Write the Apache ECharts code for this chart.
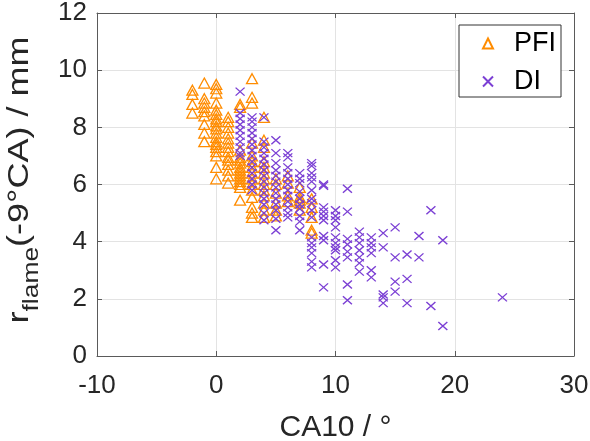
<!DOCTYPE html>
<html><head><meta charset="utf-8">
<script src="https://cdn.jsdelivr.net/npm/echarts@6/dist/echarts.min.js"></script>
<style>html,body{margin:0;padding:0;background:#fff}#c{width:590px;height:441px}</style>
</head><body><div id="c"></div>
<script>
const seriesNames = ['PFI', 'DI'];
const xTickLabels = ['-10', '0', '10', '20', '30'];
const yTickLabels = ['0', '2', '4', '6', '8', '10', '12'];
const xTitle = 'CA10 / °';

// PFI: [CA10, r_flame]
const pfiPoints = [
  [-2,9.3],[-2,9.15],[-2,8.8],[-2,8.5],
  [-1,9.55],[-1,9.0],[-1,8.85],[-1,8.7],[-1,8.55],[-1,8.4],[-1,8.1],[-1,7.8],[-1,7.5],
  [0,9.5],[0,9.35],[0,9.2],[0,8.85],[0,8.6],[0,8.45],[0,8.3],[0,8.2],[0,8.05],[0,7.95],[0,7.8],[0,7.65],[0,7.5],[0,7.4],[0,7.3],[0,7.15],[0,7.0],[0,6.6],[0,6.2],
  [1,8.35],[1,8.2],[1,8.0],[1,7.8],[1,7.6],[1,7.45],[1,7.3],[1,7.15],[1,6.95],[1,6.85],[1,6.7],[1,6.5],[1,6.3],[1,6.05],
  [2,8.8],[2,8.7],[2,7.2],[2,6.95],[2,6.85],[2,6.75],[2,6.6],[2,6.5],[2,6.4],[2,6.3],[2,6.2],[2,6.1],[2,6.0],[2,5.9],[2,5.45],
  [3,9.7],[3,9.05],[3,8.85],[3,7.45],[3,7.0],[3,6.8],[3,6.6],[3,6.4],[3,6.2],[3,6.0],[3,5.8],[3,5.55],[3,5.2],[3,5.0],[3,4.85],
  [4,8.35],[4,7.55],[4,7.3],[4,6.8],[4,6.6],[4,6.4],[4,6.2],[4,6.0],[4,5.8],[4,5.6],[4,5.35],[4,5.1],[4,4.85],
  [5,6.2],[5,6.0],[5,5.7],[5,5.35],[5,5.1],[5,4.9],
  [6,6.3],[6,6.05],[6,5.6],[6,5.4],
  [7,5.9],[7,5.55],[7,5.45],[7,5.35],[7,5.1],
  [8,5.5],[8,5.2],[8,4.85],[8,4.4],[8,4.3]
];

// DI: [CA10, r_flame]
const diPoints = [
  [2,9.25],[2,8.5],[2,8.3],[2,8.1],[2,7.9],[2,7.7],[2,7.5],[2,7.3],[2,7.1],[2,7.0],
  [3,8.35],[3,8.2],[3,8.0],[3,7.8],[3,7.6],[3,7.4],[3,7.2],[3,7.0],[3,6.8],[3,6.6],[3,6.4],[3,6.2],[3,6.0],[3,5.8],
  [4,8.35],[4,7.5],[4,7.3],[4,7.1],[4,6.9],[4,6.7],[4,6.5],[4,6.3],[4,6.1],[4,5.9],[4,5.7],[4,5.5],[4,5.3],[4,5.0],[4,4.75],
  [5,7.55],[5,7.1],[5,6.75],[5,6.5],[5,6.3],[5,6.1],[5,5.9],[5,5.7],[5,5.5],[5,5.3],[5,5.1],[5,4.8],[5,4.4],
  [6,7.1],[6,6.95],[6,6.6],[6,6.4],[6,6.2],[6,6.0],[6,5.8],[6,5.6],[6,5.4],[6,5.2],[6,5.0],[6,4.85],
  [7,6.4],[7,6.2],[7,6.05],[7,5.75],[7,5.5],[7,5.3],[7,5.15],[7,4.9],[7,4.7],[7,4.4],
  [8,6.75],[8,6.65],[8,6.4],[8,6.25],[8,6.1],[8,5.8],[8,5.5],[8,5.35],[8,5.1],[8,4.85],[8,4.15],[8,3.95],[8,3.8],[8,3.6],[8,3.3],[8,3.1],
  [9,6.0],[9,5.95],[9,5.2],[9,5.05],[9,4.9],[9,4.75],[9,4.2],[9,4.05],[9,3.2],[9,2.4],
  [10,5.1],[10,4.9],[10,4.75],[10,4.5],[10,4.15],[10,3.95],[10,3.8],[10,3.7],[10,3.35],[10,3.1],
  [11,5.85],[11,5.05],[11,4.1],[11,3.9],[11,3.65],[11,3.45],[11,2.5],[11,1.95],
  [12,4.35],[12,4.15],[12,3.95],[12,3.7],[12,3.45],[12,3.25],[12,2.95],
  [13,4.15],[13,3.95],[13,3.8],[13,3.6],[13,3.0],[13,2.75],
  [14,4.3],[14,3.8],[14,2.15],[14,2.05],[14,1.85],
  [15,4.5],[15,3.45],[15,2.6],[15,2.25],
  [16,3.55],[16,2.7],[16,1.85],
  [17,4.2],[17,3.45],
  [18,5.1],[18,1.75],
  [19,4.05],[19,1.05],
  [24,2.05]
];

const FONT = 'Liberation Sans, Arial, Helvetica, sans-serif';
const ORANGE = '#ff8c00';
const PURPLE = '#7b3fd4';
const AX = '#5a5a5a';

const chart = echarts.init(document.getElementById('c'), null, {renderer: 'canvas'});
const xMin = Number(xTickLabels[0]), xMax = Number(xTickLabels[xTickLabels.length - 1]);
const yMin = Number(yTickLabels[0]), yMax = Number(yTickLabels[yTickLabels.length - 1]);
const xInt = Number(xTickLabels[1]) - xMin, yInt = Number(yTickLabels[1]) - yMin;

const baseAxis = {
  type: 'value',
  axisLine: {show: true, onZero: false, lineStyle: {color: AX, width: 1}},
  axisTick: {show: true, inside: true, length: 5, lineStyle: {color: AX}},
};

chart.setOption({
  animation: false,
  backgroundColor: '#fff',
  grid: {left: 97, right: 16, top: 13, bottom: 85, containLabel: false, outerBoundsMode: 'none'},
  xAxis: [
    Object.assign({}, baseAxis, {
      min: xMin, max: xMax, interval: xInt, position: 'bottom',
      axisLabel: {fontSize: 26, color: '#262626', fontFamily: FONT, margin: 17},
      splitLine: {show: true, lineStyle: {color: '#e3e3e3', width: 1}},
      name: xTitle, nameLocation: 'middle', nameGap: 57,
      nameTextStyle: {fontSize: 30, color: '#262626', fontFamily: FONT}
    }),
    Object.assign({}, baseAxis, {
      min: xMin, max: xMax, interval: xInt, position: 'top',
      axisLabel: {show: false}, splitLine: {show: false}
    })
  ],
  yAxis: [
    Object.assign({}, baseAxis, {
      min: yMin, max: yMax, interval: yInt, position: 'left',
      axisLabel: {fontSize: 26, color: '#262626', fontFamily: FONT, margin: 10},
      splitLine: {show: true, lineStyle: {color: '#e3e3e3', width: 1}}
    }),
    Object.assign({}, baseAxis, {
      min: yMin, max: yMax, interval: yInt, position: 'right',
      axisLabel: {show: false}, splitLine: {show: false}
    })
  ],
  legend: {
    orient: 'vertical', left: 459, top: 25,
    padding: [5, 5, 2, 23], itemGap: 11, itemWidth: 10, itemHeight: 10,
    borderColor: '#333', borderWidth: 1, backgroundColor: '#fff',
    textStyle: {fontSize: 27, color: '#000', fontFamily: FONT, lineHeight: 26, padding: [0, 0, 0, 16]},
    data: seriesNames
  },
  graphic: [{
    type: 'text', x: 20, y: 180, rotation: Math.PI / 2, scaleX: 1.2,
    style: {
      text: '{a|r}{b|flame}{a|(-9°CA) / mm}',
      align: 'center', verticalAlign: 'middle',
      rich: {
        a: {fontSize: 30, lineHeight: 46, fontFamily: FONT, fill: '#262626'},
        b: {fontSize: 22, lineHeight: 22, fontFamily: FONT, fill: '#262626', verticalAlign: 'bottom'}
      }
    }
  }],
  series: [
    {
      name: seriesNames[0], type: 'scatter', data: pfiPoints,
      symbol: 'triangle', symbolSize: [11, 10],
      itemStyle: {color: 'rgba(0,0,0,0)', borderColor: ORANGE, borderWidth: 1.3, opacity: 1}
    },
    {
      name: seriesNames[1], type: 'scatter', data: diPoints,
      symbol: 'path://M0,0L10,10M10,0L0,10', symbolSize: [9, 8],
      itemStyle: {color: 'rgba(0,0,0,0)', borderColor: PURPLE, borderWidth: 1.3, opacity: 1}
    }
  ]
});
</script></body></html>
